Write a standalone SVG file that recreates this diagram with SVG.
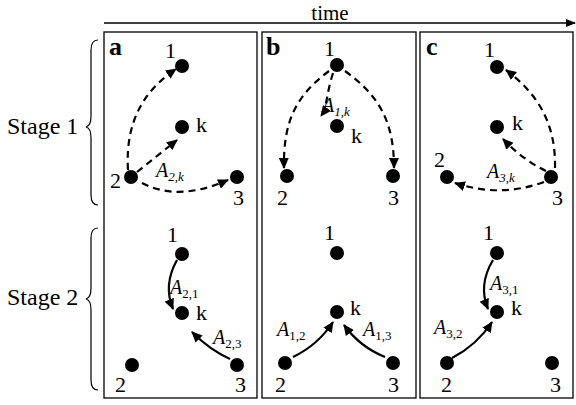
<svg xmlns="http://www.w3.org/2000/svg" width="576" height="405" viewBox="0 0 576 405">
<style>
.lbl{font-family:'Liberation Serif',serif;font-size:22px}
.pl{font-family:'Liberation Serif',serif;font-size:26px;font-weight:bold}
.st{font-family:'Liberation Serif',serif;font-size:24px}
.tm{font-family:'Liberation Serif',serif;font-size:21px}
.A{font-family:'Liberation Serif',serif;font-size:20px;font-style:italic}
.sub{font-family:'Liberation Serif',serif;font-size:13px}
.panel{fill:none;stroke:#000;stroke-width:1.3}
.n{fill:#000}
.d{fill:none;stroke:#000;stroke-width:2.2;stroke-dasharray:7 5;marker-end:url(#ah)}
.s{fill:none;stroke:#000;stroke-width:2.2;marker-end:url(#ah)}
.br{fill:none;stroke:#000;stroke-width:1.2}
</style>
<defs>
<marker id="ah" markerUnits="userSpaceOnUse" markerWidth="12" markerHeight="10" refX="10" refY="5" orient="auto">
<path d="M0,0 L11,5 L0,10 Z" fill="#000"/>
</marker>
<marker id="ta" markerUnits="userSpaceOnUse" markerWidth="10" markerHeight="8" refX="9" refY="4" orient="auto">
<path d="M0,0 L10,4 L0,8 Z" fill="#000"/>
</marker>
</defs>
<g id="time">
<line x1="104" y1="23" x2="575" y2="23" stroke="#000" stroke-width="1.5" marker-end="url(#ta)"/>
<text x="330" y="20" class="tm" text-anchor="middle" font-family="Liberation Serif">time</text>
</g>

<g id="stages">
<text x="7" y="134" class="st" font-family="Liberation Serif">Stage 1</text>
<path class="br" d="M98,40 Q91,40 91,50 L91,116 Q91,126 86,127 Q91,128 91,138 L91,195 Q91,205 98,205"/>
<text x="7" y="305" class="st" font-family="Liberation Serif">Stage 2</text>
<path class="br" d="M98,228 Q91,228 91,238 L91,288 Q91,298 86,299 Q91,300 91,310 L91,380 Q91,390 98,390"/>
</g>

<g id="panel-a">
<rect class="panel" x="104" y="32" width="153" height="366"/>
<text x="109" y="55" class="pl" font-family="Liberation Serif">a</text>
</g>
<g id="panel-b">
<rect class="panel" x="262" y="32" width="154" height="366"/>
<text x="266" y="55" class="pl" font-family="Liberation Serif">b</text>
</g>
<g id="panel-c">
<rect class="panel" x="420" y="32" width="153" height="366"/>
<text x="426" y="55" class="pl" font-family="Liberation Serif">c</text>
</g>

<g id="a1-1"><circle class="n" cx="182" cy="66" r="7"/><text x="165" y="58" class="lbl" font-family="Liberation Serif">1</text></g>
<g id="a1-k"><circle class="n" cx="182" cy="127" r="7"/><text x="196" y="132" class="lbl" font-family="Liberation Serif">k</text></g>
<g id="a1-2"><circle class="n" cx="131" cy="177" r="7"/><text x="110" y="188" class="lbl" font-family="Liberation Serif">2</text></g>
<g id="a1-3"><circle class="n" cx="237" cy="177" r="7"/><text x="233" y="205" class="lbl" font-family="Liberation Serif">3</text></g>
<g id="b1-1"><circle class="n" cx="337" cy="65" r="7"/><text x="324" y="56" class="lbl" font-family="Liberation Serif">1</text></g>
<g id="b1-k"><circle class="n" cx="337" cy="126" r="7"/><text x="351" y="143" class="lbl" font-family="Liberation Serif">k</text></g>
<g id="b1-2"><circle class="n" cx="287" cy="176" r="7"/><text x="277" y="205" class="lbl" font-family="Liberation Serif">2</text></g>
<g id="b1-3"><circle class="n" cx="393" cy="176" r="7"/><text x="388" y="205" class="lbl" font-family="Liberation Serif">3</text></g>
<g id="c1-1"><circle class="n" cx="497" cy="67" r="7"/><text x="484" y="57" class="lbl" font-family="Liberation Serif">1</text></g>
<g id="c1-k"><circle class="n" cx="497" cy="127" r="7"/><text x="512" y="130" class="lbl" font-family="Liberation Serif">k</text></g>
<g id="c1-2"><circle class="n" cx="447" cy="177" r="7"/><text x="434" y="167" class="lbl" font-family="Liberation Serif">2</text></g>
<g id="c1-3"><circle class="n" cx="551" cy="177" r="7"/><text x="552" y="205" class="lbl" font-family="Liberation Serif">3</text></g>
<g id="a2-1"><circle class="n" cx="182" cy="254" r="7"/><text x="167" y="242" class="lbl" font-family="Liberation Serif">1</text></g>
<g id="a2-k"><circle class="n" cx="182" cy="313" r="7"/><text x="196" y="320" class="lbl" font-family="Liberation Serif">k</text></g>
<g id="a2-2"><circle class="n" cx="132" cy="365" r="7"/><text x="115" y="392" class="lbl" font-family="Liberation Serif">2</text></g>
<g id="a2-3"><circle class="n" cx="237" cy="365" r="7"/><text x="235" y="392" class="lbl" font-family="Liberation Serif">3</text></g>
<g id="b2-1"><circle class="n" cx="337" cy="253" r="7"/><text x="324" y="240" class="lbl" font-family="Liberation Serif">1</text></g>
<g id="b2-k"><circle class="n" cx="337" cy="312" r="7"/><text x="350" y="315" class="lbl" font-family="Liberation Serif">k</text></g>
<g id="b2-2"><circle class="n" cx="285" cy="363" r="7"/><text x="275" y="392" class="lbl" font-family="Liberation Serif">2</text></g>
<g id="b2-3"><circle class="n" cx="393" cy="363" r="7"/><text x="388" y="392" class="lbl" font-family="Liberation Serif">3</text></g>
<g id="c2-1"><circle class="n" cx="497" cy="253" r="7"/><text x="483" y="240" class="lbl" font-family="Liberation Serif">1</text></g>
<g id="c2-k"><circle class="n" cx="497" cy="312" r="7"/><text x="511" y="315" class="lbl" font-family="Liberation Serif">k</text></g>
<g id="c2-2"><circle class="n" cx="447" cy="363" r="7"/><text x="441" y="392" class="lbl" font-family="Liberation Serif">2</text></g>
<g id="c2-3"><circle class="n" cx="552" cy="363" r="7"/><text x="550" y="392" class="lbl" font-family="Liberation Serif">3</text></g>

<g id="connectors">
<path class="d" d="M128,170 C125,120 145,90 176,69"/>
<path class="d" d="M137,172 L177,140"/>
<path class="d" d="M142,183 Q178,202 228,180"/>
<path class="d" d="M329,71 C297,95 283,120 284,168"/>
<path class="d" d="M345,71 C378,95 394,120 394,168"/>
<path class="d" d="M333,73 C326,95 327,108 321,116"/>
<path class="d" d="M555,168 C556,120 535,92 506,70"/>
<path class="d" d="M546,171 Q523,160 503,139"/>
<path class="d" d="M544,182 Q500,198 455,183"/>
<path class="s" d="M177,260 Q163,285 173,309"/>
<path class="s" d="M230,359 Q210,350 192,332"/>
<path class="s" d="M293,357 Q318,345 333,322"/>
<path class="s" d="M385,357 Q360,347 344,325"/>
<path class="s" d="M493,260 Q478,285 488,309"/>
<path class="s" d="M452,358 Q477,345 492,322"/>
</g>

<g id="edge-labels">
<text x="156" y="177" class="A" font-family="Liberation Serif">A<tspan class="sub" dy="4">2,<tspan font-style="italic">k</tspan></tspan></text>
<text x="322" y="112" class="A" font-family="Liberation Serif">A<tspan class="sub" dy="4">1,<tspan font-style="italic">k</tspan></tspan></text>
<text x="487" y="178" class="A" font-family="Liberation Serif">A<tspan class="sub" dy="4">3,<tspan font-style="italic">k</tspan></tspan></text>
<text x="170" y="294" class="A" font-family="Liberation Serif">A<tspan class="sub" dy="4" font-style="normal">2,1</tspan></text>
<text x="213" y="344" class="A" font-family="Liberation Serif">A<tspan class="sub" dy="4" font-style="normal">2,3</tspan></text>
<text x="277" y="336" class="A" font-family="Liberation Serif">A<tspan class="sub" dy="4" font-style="normal">1,2</tspan></text>
<text x="363" y="336" class="A" font-family="Liberation Serif">A<tspan class="sub" dy="4" font-style="normal">1,3</tspan></text>
<text x="490" y="290" class="A" font-family="Liberation Serif">A<tspan class="sub" dy="4" font-style="normal">3,1</tspan></text>
<text x="434" y="334" class="A" font-family="Liberation Serif">A<tspan class="sub" dy="4" font-style="normal">3,2</tspan></text>
</g>
</svg>
